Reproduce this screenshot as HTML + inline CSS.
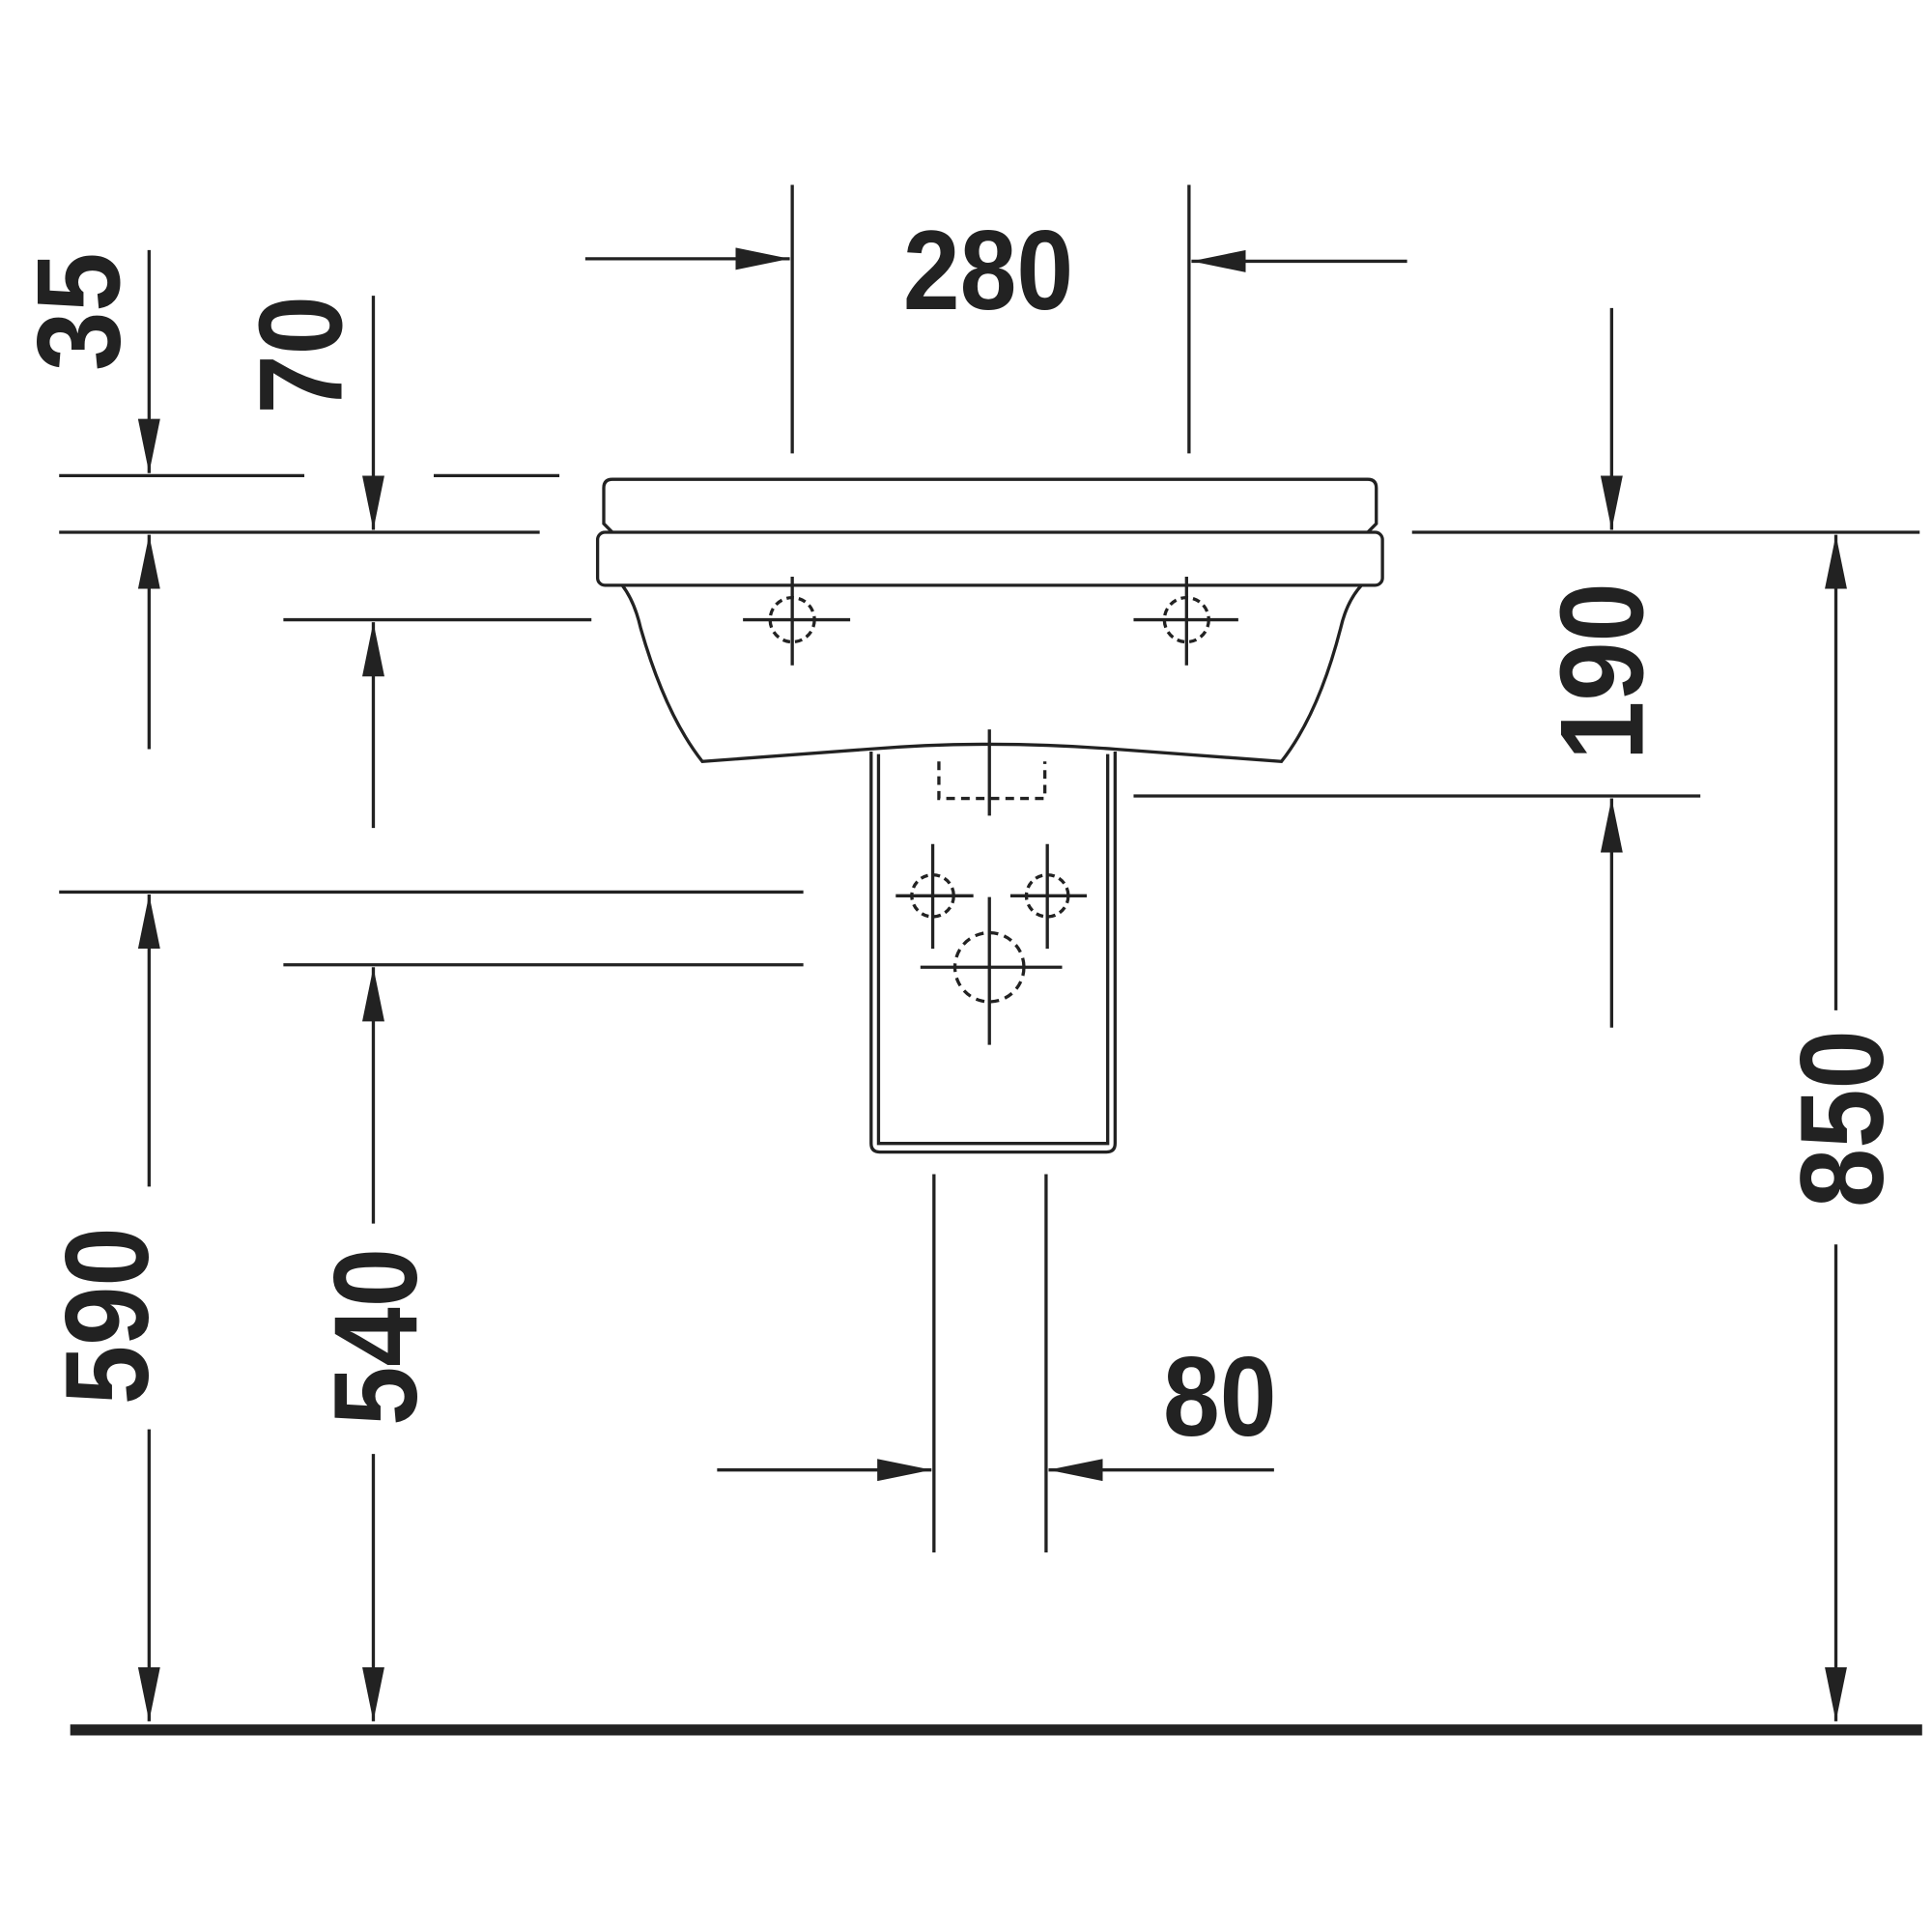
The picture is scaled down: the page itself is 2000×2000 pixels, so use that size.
<!DOCTYPE html>
<html><head><meta charset="utf-8"><style>
html,body{margin:0;padding:0;background:#fff}
svg{display:block}
text{font-family:"Liberation Sans",sans-serif;font-weight:bold;fill:#222}
</style></head><body>
<svg width="2000" height="2000" viewBox="0 0 1568 1568" xmlns="http://www.w3.org/2000/svg">
<defs>
<marker id="a" viewBox="0 0 44 18" refX="44" refY="9" markerWidth="44" markerHeight="18" markerUnits="userSpaceOnUse" orient="auto">
<path d="M0,0 L44,9 L0,18 Z" fill="#222"/></marker>
</defs>
<g stroke="#222" stroke-width="2.6" fill="none">
<line x1="643" y1="150" x2="643" y2="368"/>
<line x1="965" y1="150" x2="965" y2="368"/>
<line x1="475" y1="210" x2="641" y2="210" marker-end="url(#a)"/>
<line x1="1142" y1="212" x2="967" y2="212" marker-end="url(#a)"/>
<path d="M497,432 L490,425 L490,396 Q490,389 497,389 L1110,389 Q1117,389 1117,396 L1117,425 L1110,432"/>
<rect x="485" y="432" width="637" height="43" rx="6"/>
<path d="M505,475 Q515,488 520,510 Q540,580 570,618 L705,608 Q803,600 905,608 L1040,618 Q1070,580 1088,510 Q1093,488 1105,475"/>
<path d="M707,610 L707,928 Q707,935 714,935 L898,935 Q905,935 905,928 L905,610"/>
<path d="M713,612 L713,928 L899,928 L899,612"/>
<path d="M762,618 L762,648 L848,648 L848,618" stroke-dasharray="7,5"/>
<line x1="803" y1="592" x2="803" y2="662"/>
<line x1="603" y1="503" x2="690" y2="503"/><line x1="643" y1="468" x2="643" y2="540"/>
<circle cx="643" cy="503" r="18" stroke-dasharray="6,4"/>
<line x1="920" y1="503" x2="1005" y2="503"/><line x1="963" y1="468" x2="963" y2="540"/>
<circle cx="963" cy="503" r="18" stroke-dasharray="6,4"/>
<line x1="727" y1="727" x2="790" y2="727"/><line x1="757" y1="685" x2="757" y2="770"/>
<circle cx="757" cy="727" r="17" stroke-dasharray="6,4"/>
<line x1="820" y1="727" x2="882" y2="727"/><line x1="850" y1="685" x2="850" y2="770"/>
<circle cx="850" cy="727" r="17" stroke-dasharray="6,4"/>
<line x1="747" y1="785" x2="862" y2="785"/><line x1="803" y1="728" x2="803" y2="848"/>
<circle cx="803" cy="785" r="28" stroke-dasharray="7,5"/>
<line x1="48" y1="386" x2="247" y2="386"/><line x1="352" y1="386" x2="454" y2="386"/>
<line x1="48" y1="432" x2="438" y2="432"/>
<line x1="230" y1="503" x2="480" y2="503"/>
<line x1="48" y1="724" x2="652" y2="724"/>
<line x1="230" y1="783" x2="652" y2="783"/>
<line x1="121" y1="203" x2="121" y2="384" marker-end="url(#a)"/>
<line x1="121" y1="608" x2="121" y2="434" marker-end="url(#a)"/>
<line x1="121" y1="963" x2="121" y2="726" marker-end="url(#a)"/>
<line x1="121" y1="1160" x2="121" y2="1397" marker-end="url(#a)"/>
<line x1="303" y1="240" x2="303" y2="430" marker-end="url(#a)"/>
<line x1="303" y1="672" x2="303" y2="505" marker-end="url(#a)"/>
<line x1="303" y1="993" x2="303" y2="785" marker-end="url(#a)"/>
<line x1="303" y1="1180" x2="303" y2="1397" marker-end="url(#a)"/>
<line x1="1146" y1="432" x2="1558" y2="432"/>
<line x1="920" y1="646" x2="1380" y2="646"/>
<line x1="1308" y1="250" x2="1308" y2="430" marker-end="url(#a)"/>
<line x1="1308" y1="834" x2="1308" y2="648" marker-end="url(#a)"/>
<line x1="1490" y1="820" x2="1490" y2="434" marker-end="url(#a)"/>
<line x1="1490" y1="1010" x2="1490" y2="1397" marker-end="url(#a)"/>
<line x1="758" y1="953" x2="758" y2="1260"/>
<line x1="849" y1="953" x2="849" y2="1260"/>
<line x1="582" y1="1193" x2="756" y2="1193" marker-end="url(#a)"/>
<line x1="1034" y1="1193" x2="851" y2="1193" marker-end="url(#a)"/>
</g>
<line x1="57" y1="1404" x2="1560" y2="1404" stroke="#222" stroke-width="9"/>
<text x="802" y="251" font-size="92" text-anchor="middle" transform="translate(802,0) scale(0.9,1) translate(-802,0)">280</text>
<text x="990" y="1165" font-size="92" text-anchor="middle" transform="translate(990,0) scale(0.9,1) translate(-990,0)">80</text>
<g font-size="96">
<text transform="translate(97,253) rotate(-90) scale(0.9,1)" text-anchor="middle">35</text>
<text transform="translate(277,288) rotate(-90) scale(0.9,1)" text-anchor="middle">70</text>
<text transform="translate(120,1068) rotate(-90) scale(0.9,1)" text-anchor="middle">590</text>
<text transform="translate(338,1085) rotate(-90) scale(0.9,1)" text-anchor="middle">540</text>
<text transform="translate(1333,545) rotate(-90) scale(0.9,1)" text-anchor="middle">190</text>
<text transform="translate(1528,908) rotate(-90) scale(0.9,1)" text-anchor="middle">850</text>
</g>
</svg>
</body></html>
